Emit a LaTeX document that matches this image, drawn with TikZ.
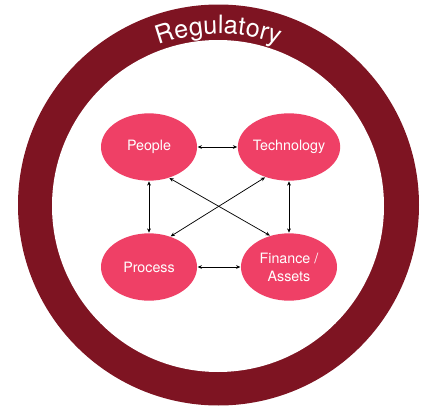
\documentclass[tikz,border=0pt]{standalone}
\usepackage{fontspec}
\setmainfont{TeX Gyre Heros}
\usetikzlibrary{shapes.geometric,arrows.meta,decorations.text}
\definecolor{ringred}{RGB}{126,20,34}
\definecolor{bubble}{RGB}{239,64,102}
\tikzset{
  area/.style={ellipse, fill=bubble, draw=none, minimum width=72pt,
    minimum height=50.5pt, inner sep=0pt, text=white, align=center,
    font=\fontsize{10.7}{13.5}\selectfont},
  link/.style={{Stealth[length=3.2pt,width=2.8pt]}-{Stealth[length=3.2pt,width=2.8pt]},
    line width=0.55pt, black, shorten <=0.3pt, shorten >=0.3pt}
}
\begin{document}
\begin{tikzpicture}[x=0.75pt,y=0.75pt]
  \useasboundingbox (0,0) rectangle (426,405);
  \clip (0,0) rectangle (426,405);
  % outer ring
  \fill[ringred] (218.5,200) circle (200.5);
  \fill[white] (218,199) circle (166);
  % label on the ring
  \path[decorate, decoration={text along path, text align=center,
      text={|\color{white}\fontsize{19}{19}\selectfont|Regulatory}}]
    (218.5,200) ++(160:171) arc (160:20:171);
  % four areas
  \node[area] (people) at (149,258) {People};
  \node[area] (tech) at (289,258) {Technology};
  \node[area] (process) at (149,138) {Process};
  \node[area] (finance) at (289,138) {Finance /\\Assets};
  % links
  \draw[link] (people) -- (tech);
  \draw[link] (process) -- (finance);
  \draw[link] (people) -- (process);
  \draw[link] (tech) -- (finance);
  \draw[link] (people.-57) -- (finance.121);
  \draw[link] (tech.232) -- (process.55);
\end{tikzpicture}
\end{document}
